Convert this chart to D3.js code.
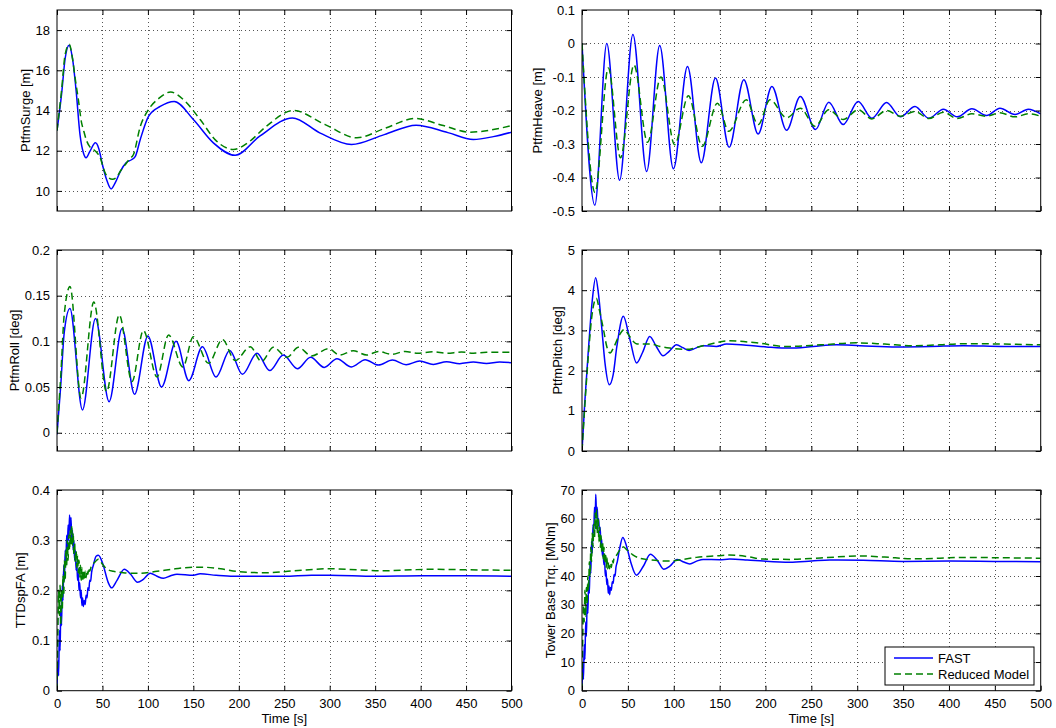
<!DOCTYPE html>
<html>
<head>
<meta charset="utf-8">
<script src="https://cdn.jsdelivr.net/npm/d3@7"></script>
<style>
  body { margin: 0; background: #fff; }
  text { font-family: "Liberation Sans", Arial, Helvetica, sans-serif; }
</style>
</head>
<body>
<div id="chart"></div>
<script>
// Time axis ticks (shared by all panels)
var timeTicks = [0, 50, 100, 150, 200, 250, 300, 350, 400, 450, 500];

// Y ticks per panel
var surgeTicks = [10, 12, 14, 16, 18];
var heaveTicks = [-0.5, -0.4, -0.3, -0.2, -0.1, 0, 0.1];
var rollTicks = [0, 0.05, 0.1, 0.15, 0.2];
var pitchTicks = [0, 1, 2, 3, 4, 5];
var ttdTicks = [0, 0.1, 0.2, 0.3, 0.4];
var towerTicks = [0, 10, 20, 30, 40, 50, 60, 70];

var seriesNames = ["FAST", "Reduced Model"];

// [time s, value]
var surgeFast = [[0,13.0],[5,14.8],[9,16.6],[13.3,17.25],[17,16.6],[21,15.0],[25.3,12.8],[29,11.9],[32,11.65],[36,11.95],
  [42.3,12.39],[46,12.1],[50,11.3],[55,10.5],[59.5,10.1],[64,10.4],[70,11.0],[76,11.4],[82,11.55],[86,11.7],[91.6,12.56],
  [100.7,13.71],[113.5,14.2],[129,14.45],[150,13.55],[172,12.39],[196,11.77],[223,12.72],[259,13.63],[289,12.89],
  [324,12.31],[360,12.8],[395,13.27],[430,12.9],[458,12.56],[480,12.7],[500,12.92]];
var surgeReduced = [[0,13.0],[5,15.0],[9,16.8],[13.5,17.3],[17,16.6],[20,15.6],[23.5,14.54],[27,13.4],[29,13.05],[32.7,12.48],
  [36,12.2],[40,12.06],[44,11.9],[47.4,11.67],[50,11.3],[52.9,10.9],[57,10.65],[61,10.58],[65,10.65],[70,11.0],[75,11.3],
  [80,11.6],[84,11.8],[91.6,13.2],[100,14.0],[112,14.6],[125,14.92],[140,14.5],[157.5,13.55],[175,12.5],[194,12.06],
  [210,12.4],[230,13.2],[260,14.0],[295,13.3],[330,12.64],[360,13.1],[394,13.6],[425,13.25],[454,12.92],[480,13.05],[500,13.25]];

var heaveFast = [[0,0],[14,-0.483],[27,0],[41,-0.408],[55.5,0.027],[70.5,-0.382],[84.7,-0.006],[99.6,-0.374],[115,-0.069],
  [130,-0.356],[145.5,-0.103],[160.4,-0.31],[176.4,-0.108],[192,-0.27],[207,-0.128],[223,-0.259],[238,-0.158],[254.5,-0.257],
  [269,-0.175],[284.7,-0.242],[301,-0.173],[316,-0.223],[332,-0.176],[347,-0.219],[363,-0.188],[378,-0.223],[394,-0.196],
  [409,-0.219],[425,-0.195],[441,-0.215],[455.6,-0.193],[472,-0.212],[486.5,-0.196],[500,-0.21]];
var heaveReduced = [[0,0],[14.2,-0.445],[28.7,-0.073],[42,-0.341],[56.6,-0.064],[71.5,-0.295],[86,-0.1],[101,-0.302],
  [116,-0.156],[131,-0.307],[147.6,-0.178],[160,-0.262],[179,-0.168],[192,-0.242],[205,-0.168],[223,-0.222],[238,-0.193],
  [254,-0.247],[269,-0.198],[284.7,-0.227],[301,-0.198],[316,-0.225],[332,-0.2],[347,-0.217],[363,-0.203],[378,-0.224],
  [394,-0.205],[409,-0.224],[425,-0.21],[441,-0.217],[455.6,-0.207],[472,-0.219],[486.5,-0.21],[500,-0.217]];

var rollFast = [[0,-0.002],[4,0.05],[8,0.11],[14.2,0.136],[28,0.025],[42.3,0.125],[57.3,0.034],[71.6,0.114],[85.3,0.042],
  [100,0.106],[115,0.05],[131,0.1],[145,0.057],[160,0.094],[175,0.061],[190,0.09],[204,0.064],[220,0.087],[234,0.068],
  [249,0.085],[264.5,0.07],[279,0.0825],[294,0.0715],[308,0.081],[324,0.072],[339,0.08],[353.5,0.074],[369,0.0796],
  [384,0.0745],[399,0.0785],[414,0.0748],[428.6,0.0778],[443,0.0756],[458,0.0774],[472.5,0.0759],[487,0.0774],[500,0.0767]];
var rollReduced = [[0,0],[4,0.06],[8,0.13],[14.3,0.16],[26.5,0.038],[40.5,0.143],[54.5,0.045],[68.5,0.129],[82.5,0.056],
  [95,0.112],[110,0.061],[122.7,0.107],[138.5,0.072],[150,0.105],[166.7,0.076],[182,0.102],[196,0.079],[212.5,0.094],
  [225,0.078],[238,0.0935],[253,0.0825],[265.6,0.0935],[280,0.084],[298.5,0.092],[311,0.085],[326,0.0898],[340.7,0.085],
  [353.5,0.089],[368,0.0858],[383,0.089],[397,0.0869],[414,0.0887],[428.6,0.087],[445,0.0883],[458,0.087],[472.5,0.088],[500,0.088]];

var pitchFast = [[0,0],[3,1.2],[7,2.52],[11,3.7],[14.9,4.31],[18,3.9],[21.4,3.1],[25,2.2],[29.8,1.65],[34,1.9],[38,2.6],
  [45,3.35],[52,2.8],[59.5,2.19],[66,2.45],[73.8,2.85],[81,2.6],[88.4,2.37],[95,2.48],[103,2.64],[110,2.57],[116.7,2.5],
  [124,2.56],[132,2.62],[146.5,2.6],[157.5,2.66],[179,2.63],[201,2.59],[226.5,2.56],[252,2.6],[277,2.64],[303,2.62],
  [343,2.59],[380,2.6],[415.6,2.62],[460,2.6],[500,2.6]];
var pitchReduced = [[0,0],[3,1.1],[7,2.4],[11,3.4],[15.6,3.8],[19,3.5],[23.6,3.0],[27,2.6],[30.5,2.44],[35,2.6],[40,2.85],
  [46,3.02],[52,2.85],[59,2.67],[66,2.66],[75,2.66],[85,2.6],[95.6,2.56],[113.8,2.53],[135.6,2.64],[161,2.74],[190,2.69],
  [223,2.6],[260,2.64],[299,2.69],[330,2.66],[361,2.62],[390,2.64],[415.6,2.67],[460,2.66],[500,2.64]];

var ttdFast = [[0,0.0],[1,0.06],[1.8,0.03],[2.6,0.12],[3.4,0.08],[4.2,0.17],[5,0.13],[5.8,0.21],[6.6,0.18],[7.4,0.25],
  [8.2,0.22],[9,0.28],[9.8,0.25],[10.6,0.31],[11.4,0.28],[12.2,0.33],[13,0.30],[13.8,0.35],[14.6,0.32],[15.4,0.345],
  [16.2,0.30],[17,0.32],[17.8,0.28],[18.6,0.30],[19.4,0.26],[20.2,0.28],[21,0.24],[21.8,0.255],[22.6,0.22],[23.4,0.235],
  [24.2,0.20],[25,0.215],[25.8,0.185],[26.6,0.20],[27.4,0.17],[28.2,0.185],[29,0.168],[30,0.18],[31,0.172],[32,0.19],
  [33,0.185],[34,0.205],[35,0.2],[36,0.22],[37,0.218],[38,0.235],[40,0.25],[43,0.268],[45.5,0.27],[50,0.255],[56.5,0.215],
  [60,0.205],[66,0.22],[74,0.242],[81,0.232],[88.6,0.216],[95,0.222],[102.6,0.234],[110,0.228],[117,0.224],[125,0.229],
  [132,0.232],[150,0.23],[157.5,0.233],[175,0.23],[194,0.228],[220,0.228],[250,0.228],[280,0.23],[300,0.23],[350,0.228],
  [400,0.229],[450,0.229],[500,0.228]];
var ttdReduced = [[0,0.0],[1,0.12],[1.8,0.2],[2.6,0.15],[3.4,0.21],[4.2,0.13],[5,0.2],[5.8,0.16],[6.6,0.23],[7.4,0.19],
  [8.2,0.26],[9,0.22],[9.8,0.28],[10.6,0.25],[11.4,0.30],[12.2,0.26],[13,0.31],[13.8,0.28],[14.6,0.32],[15.4,0.29],
  [16.2,0.33],[17,0.29],[17.8,0.315],[18.6,0.27],[19.4,0.295],[20.2,0.255],[21,0.28],[21.8,0.245],[22.6,0.27],[23.4,0.235],
  [24.2,0.26],[25,0.225],[25.8,0.25],[26.6,0.22],[27.4,0.245],[28.2,0.218],[29,0.24],[30,0.22],[31,0.238],[32,0.225],
  [33,0.24],[34,0.232],[35,0.245],[36,0.238],[38,0.25],[41,0.255],[45.5,0.262],[50,0.252],[55,0.242],[62,0.238],[70,0.236],
  [80,0.234],[91.6,0.234],[110,0.238],[130,0.243],[150,0.246],[161,0.246],[180,0.243],[201,0.237],[231,0.235],[260,0.239],
  [300,0.243],[330,0.241],[359,0.239],[390,0.241],[414,0.242],[450,0.241],[500,0.24]];

var towerFast = [[0,0],[0.8,8],[1.6,4],[2.4,16],[3.2,11],[4,24],[4.8,19],[5.6,31],[6.4,27],[7.2,38],[8,34],[8.8,45],
  [9.6,41],[10.4,52],[11.2,48],[12,58],[12.8,55],[13.6,64],[14.4,60],[15,68.5],[15.8,62],[16.6,64],[17.4,58],[18.2,60],
  [19,55],[19.8,57],[20.6,51],[21.4,53],[22.2,47],[23,49],[23.8,44],[24.6,46],[25.4,40],[26.2,42],[27,37],[27.8,39],
  [28.6,34],[29.4,36.5],[30.2,33.5],[31,36],[32,35],[33,38],[34,37.5],[35,40.5],[36,40],[37,43],[38.5,45],[41,49.5],
  [44.5,53.4],[48,51],[53,45],[59.3,40.3],[67,43.5],[74.5,47.6],[82,45.5],[89,42.4],[96,43.5],[103.6,45.8],[110,45],
  [117.5,44.2],[125,45.2],[132,45.8],[150,45.7],[161,45.9],[180,45.6],[197.5,45.2],[226.5,44.8],[250,45.2],[270,45.6],
  [306.5,45.5],[350,45.1],[400,45.2],[450,45.1],[500,45]];
var towerReduced = [[0,0],[0.8,18],[1.6,30],[2.4,24],[3.2,35],[4,26],[4.8,36],[5.6,30],[6.4,40],[7.2,35],[8,45],[8.8,40],
  [9.6,50],[10.4,45],[11.2,55],[12,50],[12.8,58],[13.6,53],[14.4,62],[15.2,56],[16,63],[16.8,55],[17.6,60],[18.4,52],
  [19.2,57],[20,50],[20.8,54],[21.6,48],[22.4,52],[23.2,46],[24,50],[24.8,44.5],[25.6,48],[26.4,43],[27.2,46.5],[28,42.5],
  [29,45],[30,42.5],[31,44.5],[32,43],[33,45.5],[34,44.5],[35,46.5],[37,47],[40,48.5],[44.7,50.2],[50,48.8],[55,47.5],
  [63,46.2],[75,45.6],[95.6,45.2],[110,45.8],[124.7,46.5],[145,47],[161,47.3],[180,46.8],[197.5,45.9],[226.5,45.8],
  [260,46.3],[303,47],[330,46.6],[361,46],[390,46.2],[415.6,46.5],[450,46.4],[500,46.2]];

// Layout
var svgWidth = 1056, svgHeight = 728;
var colX = [[57, 511.5], [582, 1040.7]];
var rowY = [[10, 211], [250, 451], [490, 690.7]];

var panels = [
  { label: "PtfmSurge [m]", fast: surgeFast, reduced: surgeReduced, ticks: surgeTicks, domain: [9, 19], col: 0, row: 0, labelX: 30 },
  { label: "PtfmHeave [m]", fast: heaveFast, reduced: heaveReduced, ticks: heaveTicks, domain: [-0.5, 0.1], col: 1, row: 0, labelX: 542 },
  { label: "PtfmRoll [deg]", fast: rollFast, reduced: rollReduced, ticks: rollTicks, domain: [-0.02, 0.2], col: 0, row: 1, labelX: 19 },
  { label: "PtfmPitch [deg]", fast: pitchFast, reduced: pitchReduced, ticks: pitchTicks, domain: [0, 5], col: 1, row: 1, labelX: 562 },
  { label: "TTDspFA [m]", fast: ttdFast, reduced: ttdReduced, ticks: ttdTicks, domain: [0, 0.4], col: 0, row: 2, labelX: 25 },
  { label: "Tower Base Trq. [MNm]", fast: towerFast, reduced: towerReduced, ticks: towerTicks, domain: [0, 70], col: 1, row: 2, labelX: 555 }
];

var svg = d3.select("#chart")
  .append("svg")
  .attr("width", svgWidth)
  .attr("height", svgHeight);

var fmt = function (d) { return String(d); };

panels.forEach(function (p, i) {
  var x0 = colX[p.col][0], x1 = colX[p.col][1];
  var y0 = rowY[p.row][0], y1 = rowY[p.row][1];
  var width = x1 - x0, height = y1 - y0;

  var xScale = d3.scaleLinear().domain([0, 500]).range([0, width]);
  var yScale = d3.scaleLinear().domain(p.domain).range([height, 0]);

  var g = svg.append("g").attr("transform", `translate(${x0}, ${y0})`);

  // white plot area
  g.append("rect").attr("width", width).attr("height", height).attr("fill", "#fff");

  // dotted grid
  g.selectAll(".gx").data(timeTicks.slice(1, -1)).enter().append("line")
    .attr("x1", d => Math.round(xScale(d)) + 0.5).attr("x2", d => Math.round(xScale(d)) + 0.5)
    .attr("y1", 0).attr("y2", height)
    .attr("stroke", "#555").attr("stroke-width", 1).attr("stroke-dasharray", "1,3");
  g.selectAll(".gy").data(p.ticks.filter(d => yScale(d) > 1 && yScale(d) < height - 1)).enter().append("line")
    .attr("y1", d => Math.round(yScale(d)) + 0.5).attr("y2", d => Math.round(yScale(d)) + 0.5)
    .attr("x1", 0).attr("x2", width)
    .attr("stroke", "#555").attr("stroke-width", 1).attr("stroke-dasharray", "1,3");

  // clip
  var clipId = "clip" + i;
  g.append("clipPath").attr("id", clipId)
    .append("rect").attr("width", width).attr("height", height);

  var line = d3.line()
    .x(d => xScale(d[0]))
    .y(d => yScale(d[1]))
    .curve(d3.curveMonotoneX);

  g.append("path")
    .datum(p.fast)
    .attr("clip-path", `url(#${clipId})`)
    .attr("fill", "none")
    .attr("stroke", "#0000ff")
    .attr("stroke-width", 1.5)
    .attr("d", line);

  g.append("path")
    .datum(p.reduced)
    .attr("clip-path", `url(#${clipId})`)
    .attr("fill", "none")
    .attr("stroke", "#008000")
    .attr("stroke-width", 1.5)
    .attr("stroke-dasharray", "7,4")
    .attr("d", line);

  // axes with inward ticks
  var leftAxis = d3.axisLeft(yScale).tickValues(p.ticks).tickFormat(fmt)
    .tickSizeInner(-5).tickSizeOuter(0).tickPadding(7);
  var rightAxis = d3.axisRight(yScale).tickValues(p.ticks).tickFormat("")
    .tickSizeInner(-5).tickSizeOuter(0);
  var bottomAxis = d3.axisBottom(xScale).tickValues(timeTicks)
    .tickFormat(p.row === 2 ? fmt : "")
    .tickSizeInner(-5).tickSizeOuter(0).tickPadding(8);
  var topAxis = d3.axisTop(xScale).tickValues(timeTicks).tickFormat("")
    .tickSizeInner(-5).tickSizeOuter(0);

  var axes = [
    g.append("g").call(leftAxis),
    g.append("g").attr("transform", `translate(${width}, 0)`).call(rightAxis),
    g.append("g").attr("transform", `translate(0, ${height})`).call(bottomAxis),
    g.append("g").call(topAxis)
  ];
  axes.forEach(function (a) {
    a.select(".domain").remove();
    a.selectAll("line").attr("stroke", "#000");
    a.selectAll("text")
      .attr("fill", "#000")
      .style("font-size", "13px")
      .style("font-family", "'Liberation Sans', Arial, Helvetica, sans-serif");
  });

  // box
  g.append("rect")
    .attr("width", width).attr("height", height)
    .attr("fill", "none").attr("stroke", "#000").attr("stroke-width", 1);

  // y label
  svg.append("text")
    .attr("transform", `translate(${p.labelX}, ${(y0 + y1) / 2}) rotate(-90)`)
    .attr("text-anchor", "middle")
    .style("font-size", "13px")
    .text(p.label);

  if (p.row === 2) {
    svg.append("text")
      .attr("x", (x0 + x1) / 2)
      .attr("y", 723)
      .attr("text-anchor", "middle")
      .style("font-size", "13px")
      .text("Time [s]");
  }
});

// Legend
var legend = svg.append("g").attr("transform", "translate(885, 647)");
legend.append("rect")
  .attr("width", 149).attr("height", 38)
  .attr("fill", "#fff").attr("stroke", "#000").attr("stroke-width", 1);
var legendStyles = [
  { color: "#0000ff", dash: null },
  { color: "#008000", dash: "7,4" }
];
seriesNames.forEach(function (name, i) {
  var yy = 11 + i * 16;
  legend.append("line")
    .attr("x1", 9).attr("x2", 48).attr("y1", yy).attr("y2", yy)
    .attr("stroke", legendStyles[i].color).attr("stroke-width", 1.5)
    .attr("stroke-dasharray", legendStyles[i].dash);
  legend.append("text")
    .attr("x", 53).attr("y", yy + 4.5)
    .style("font-size", "13px")
    .text(name);
});
</script>
</body>
</html>
